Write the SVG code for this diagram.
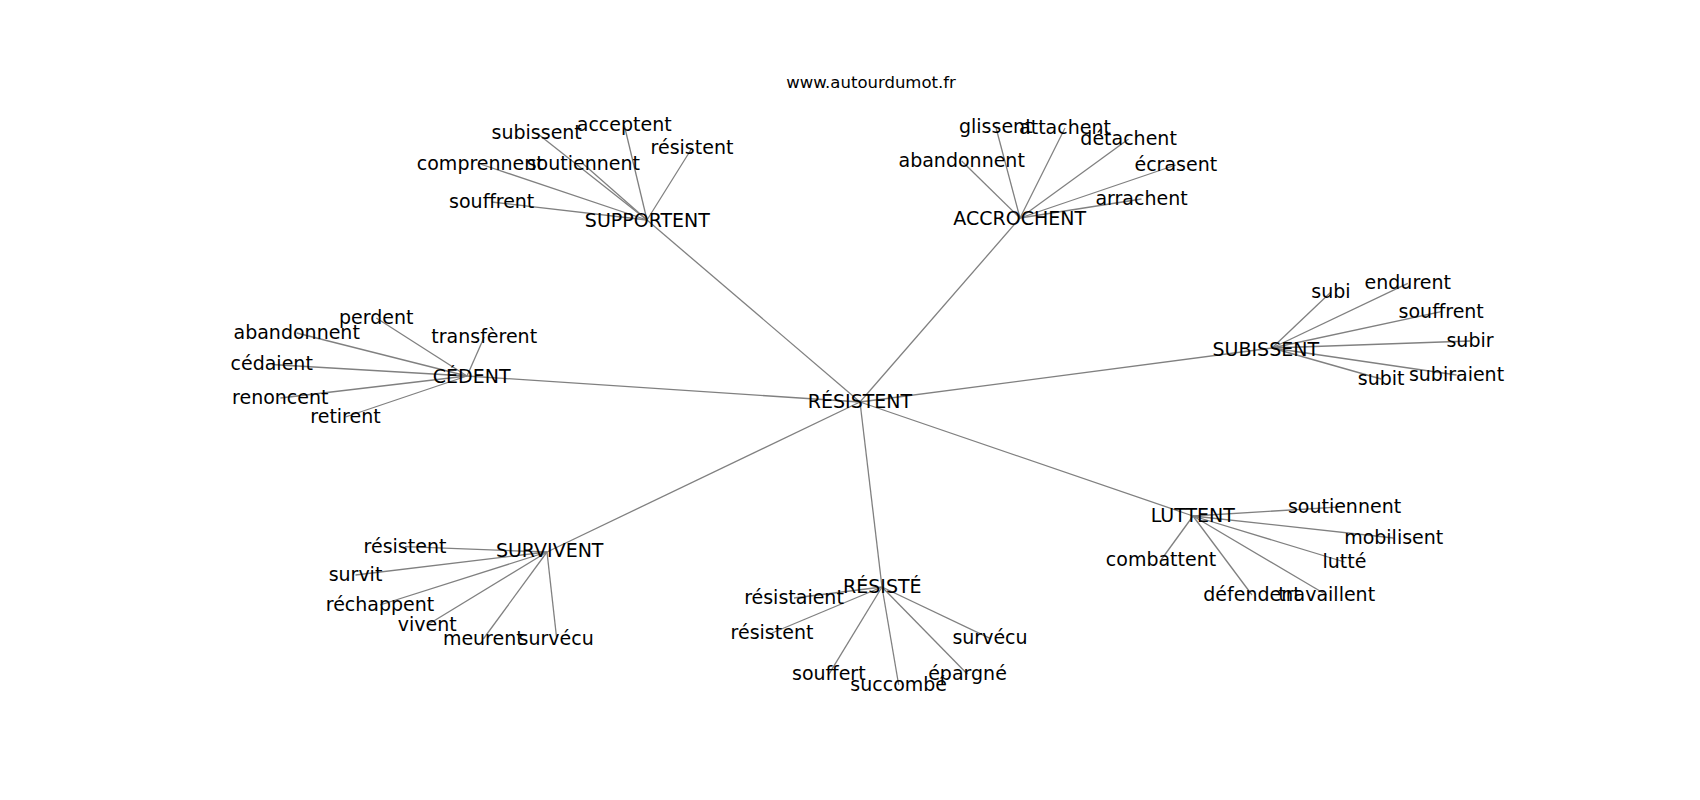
<svg xmlns="http://www.w3.org/2000/svg" width="1700" height="800" viewBox="0 0 1700 800">
<style>
text{font-family:"DejaVu Sans","Liberation Sans",sans-serif;font-size:19px;fill:#000;text-anchor:middle}
.title{font-size:16.5px}
.e line{stroke:#808080;stroke-width:1.3}
</style>
<rect width="1700" height="800" fill="#fff"/>
<text class="title" x="871" y="88">www.autourdumot.fr</text>
<g class="e" id="connectors">
<line x1="860" y1="402" x2="647" y2="220"/>
<line x1="860" y1="402" x2="1020" y2="218"/>
<line x1="860" y1="402" x2="467" y2="376"/>
<line x1="860" y1="402" x2="1272" y2="348"/>
<line x1="860" y1="402" x2="1193" y2="516"/>
<line x1="860" y1="402" x2="547" y2="552"/>
<line x1="860" y1="402" x2="882" y2="587"/>
<line x1="647" y1="220" x2="536.7" y2="133"/>
<line x1="647" y1="220" x2="624.2" y2="125"/>
<line x1="647" y1="220" x2="692" y2="148"/>
<line x1="647" y1="220" x2="480.3" y2="164"/>
<line x1="647" y1="220" x2="583.3" y2="164"/>
<line x1="647" y1="220" x2="491.7" y2="202"/>
<line x1="1020" y1="218" x2="995.8" y2="127"/>
<line x1="1020" y1="218" x2="1065" y2="128"/>
<line x1="1020" y1="218" x2="1128.6" y2="139"/>
<line x1="1020" y1="218" x2="961.7" y2="161"/>
<line x1="1020" y1="218" x2="1175.8" y2="165"/>
<line x1="1020" y1="218" x2="1141.5" y2="199"/>
<line x1="467" y1="376" x2="376.3" y2="318"/>
<line x1="467" y1="376" x2="296.7" y2="333"/>
<line x1="467" y1="376" x2="484.2" y2="337"/>
<line x1="467" y1="376" x2="271.7" y2="364.5"/>
<line x1="467" y1="376" x2="280.3" y2="398"/>
<line x1="467" y1="376" x2="345.5" y2="417"/>
<line x1="1272" y1="348" x2="1331" y2="292"/>
<line x1="1272" y1="348" x2="1407.8" y2="283.3"/>
<line x1="1272" y1="348" x2="1441.2" y2="311.7"/>
<line x1="1272" y1="348" x2="1470" y2="341"/>
<line x1="1272" y1="348" x2="1381.2" y2="379"/>
<line x1="1272" y1="348" x2="1456.5" y2="375"/>
<line x1="1193" y1="516" x2="1344.5" y2="506.7"/>
<line x1="1193" y1="516" x2="1393.7" y2="538"/>
<line x1="1193" y1="516" x2="1344.5" y2="562"/>
<line x1="1193" y1="516" x2="1161" y2="560"/>
<line x1="1193" y1="516" x2="1252" y2="595"/>
<line x1="1193" y1="516" x2="1326.7" y2="595"/>
<line x1="547" y1="552" x2="405" y2="546.7"/>
<line x1="547" y1="552" x2="355.5" y2="575"/>
<line x1="547" y1="552" x2="380" y2="605"/>
<line x1="547" y1="552" x2="427.2" y2="625"/>
<line x1="547" y1="552" x2="483.3" y2="639"/>
<line x1="547" y1="552" x2="556.5" y2="637"/>
<line x1="882" y1="587" x2="794" y2="598"/>
<line x1="882" y1="587" x2="772" y2="633"/>
<line x1="882" y1="587" x2="828.8" y2="674.3"/>
<line x1="882" y1="587" x2="898.7" y2="685"/>
<line x1="882" y1="587" x2="967.5" y2="674.3"/>
<line x1="882" y1="587" x2="990" y2="638.3"/>
</g>
<g id="nodes" transform="translate(0,1)">
<g id="n-resistent"><text x="860" y="407.3">RÉSISTENT</text></g>
<g id="n-supportent"><text x="647.4" y="226">SUPPORTENT</text></g>
<g id="n-supportent-subissent"><text x="536.7" y="138.3">subissent</text></g>
<g id="n-supportent-acceptent"><text x="624.2" y="130">acceptent</text></g>
<g id="n-supportent-resistent"><text x="692" y="153">résistent</text></g>
<g id="n-supportent-comprennent"><text x="480.3" y="169.3">comprennent</text></g>
<g id="n-supportent-soutiennent"><text x="583.3" y="169.3">soutiennent</text></g>
<g id="n-supportent-souffrent"><text x="491.7" y="207.3">souffrent</text></g>
<g id="n-accrochent"><text x="1019.7" y="223.5">ACCROCHENT</text></g>
<g id="n-accrochent-glissent"><text x="995.8" y="131.7">glissent</text></g>
<g id="n-accrochent-attachent"><text x="1065" y="133.3">attachent</text></g>
<g id="n-accrochent-detachent"><text x="1128.6" y="144">détachent</text></g>
<g id="n-accrochent-abandonnent"><text x="961.7" y="166">abandonnent</text></g>
<g id="n-accrochent-ecrasent"><text x="1175.8" y="170">écrasent</text></g>
<g id="n-accrochent-arrachent"><text x="1141.5" y="204">arrachent</text></g>
<g id="n-cedent"><text x="471.7" y="381.7">CÉDENT</text></g>
<g id="n-cedent-perdent"><text x="376.3" y="323.3">perdent</text></g>
<g id="n-cedent-abandonnent"><text x="296.7" y="338.3">abandonnent</text></g>
<g id="n-cedent-transferent"><text x="484.2" y="341.7">transfèrent</text></g>
<g id="n-cedent-cedaient"><text x="271.7" y="369.3">cédaient</text></g>
<g id="n-cedent-renoncent"><text x="280.3" y="402.7">renoncent</text></g>
<g id="n-cedent-retirent"><text x="345.5" y="421.7">retirent</text></g>
<g id="n-subissent"><text x="1265.8" y="355">SUBISSENT</text></g>
<g id="n-subissent-subi"><text x="1331" y="296.7">subi</text></g>
<g id="n-subissent-endurent"><text x="1407.8" y="288.3">endurent</text></g>
<g id="n-subissent-souffrent"><text x="1441.2" y="316.7">souffrent</text></g>
<g id="n-subissent-subir"><text x="1470" y="346">subir</text></g>
<g id="n-subissent-subit"><text x="1381.2" y="384">subit</text></g>
<g id="n-subissent-subiraient"><text x="1456.5" y="380">subiraient</text></g>
<g id="n-luttent"><text x="1192.8" y="521">LUTTENT</text></g>
<g id="n-luttent-soutiennent"><text x="1344.5" y="511.7">soutiennent</text></g>
<g id="n-luttent-mobilisent"><text x="1393.7" y="543.3">mobilisent</text></g>
<g id="n-luttent-lutte"><text x="1344.5" y="567.3">lutté</text></g>
<g id="n-luttent-combattent"><text x="1161" y="565">combattent</text></g>
<g id="n-luttent-defendent"><text x="1252" y="600">défendent</text></g>
<g id="n-luttent-travaillent"><text x="1326.7" y="600">travaillent</text></g>
<g id="n-survivent"><text x="549.7" y="556.2">SURVIVENT</text></g>
<g id="n-survivent-resistent"><text x="405" y="551.7">résistent</text></g>
<g id="n-survivent-survit"><text x="355.5" y="580">survit</text></g>
<g id="n-survivent-rechappent"><text x="380" y="610">réchappent</text></g>
<g id="n-survivent-vivent"><text x="427.2" y="630">vivent</text></g>
<g id="n-survivent-meurent"><text x="483.3" y="644">meurent</text></g>
<g id="n-survivent-survecu"><text x="556.2" y="644">survécu</text></g>
<g id="n-resiste"><text x="882.3" y="591.7">RÉSISTÉ</text></g>
<g id="n-resiste-resistaient"><text x="794" y="603.3">résistaient</text></g>
<g id="n-resiste-resistent"><text x="772" y="638.3">résistent</text></g>
<g id="n-resiste-souffert"><text x="828.8" y="679.3">souffert</text></g>
<g id="n-resiste-succombe"><text x="898.7" y="690">succombé</text></g>
<g id="n-resiste-epargne"><text x="967.5" y="679.3">épargné</text></g>
<g id="n-resiste-survecu"><text x="990" y="643.3">survécu</text></g>
</g>
</svg>
